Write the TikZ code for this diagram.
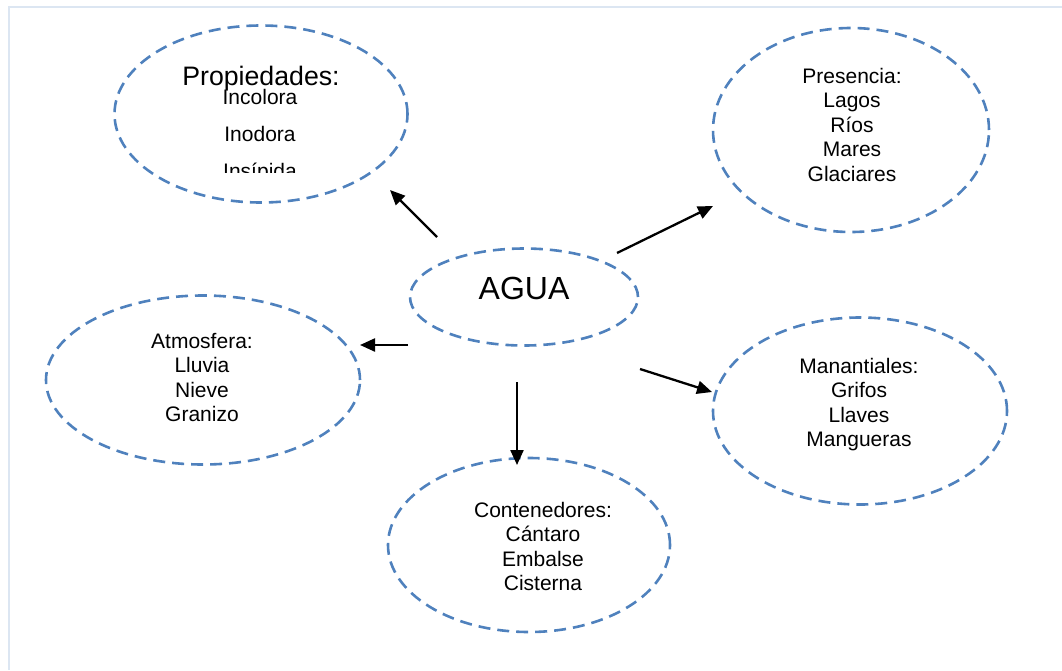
\documentclass[tikz,border=0pt]{standalone}
\usepackage{fontspec}
\setmainfont{Liberation Sans}
\usetikzlibrary{arrows.meta,shapes.geometric}
\definecolor{dashblue}{RGB}{79,129,189}
\definecolor{framegray}{RGB}{220,230,242}

\begin{document}
\begin{tikzpicture}[x=1pt,y=-1pt]
\tikzstyle{bubble}=[ellipse, draw=dashblue, line width=2.6pt, dash pattern=on 12pt off 7pt, inner sep=0pt]
\tikzstyle{txt}=[anchor=north, align=center, inner sep=0pt, font=\fontsize{21}{24.5}\selectfont]
\tikzstyle{arrow}=[line width=2.3pt, -{Triangle[length=15pt,width=13pt]}]
\useasboundingbox (0,0) rectangle (1062,670);
\draw [framegray, line width=2pt] (9,670) -- (9,7) -- (1062,7);
% ellipses
\draw (524,297) node (agua) [bubble, minimum width=228pt, minimum height=97pt] {};
\draw (261,114) node (prop) [bubble, minimum width=293pt, minimum height=177pt] {};
\draw (851,130) node (pres) [bubble, minimum width=276pt, minimum height=204pt] {};
\draw (203,380) node (atmo) [bubble, minimum width=314pt, minimum height=169pt] {};
\draw (860,411) node (mana) [bubble, minimum width=294pt, minimum height=187pt] {};
\draw (529,545) node (cont) [bubble, minimum width=282pt, minimum height=174pt] {};
% texts
\draw (524,277) node (aguatxt) [txt, font=\fontsize{32}{36}\selectfont] {AGUA};
\draw (261,66) node (proptxt) [txt, font=\fontsize{26.7}{30}\selectfont] {Propiedades:};
\begin{scope}
\clip (150,40) rectangle (380,172);
\draw (260,88.7) node (propitems) [txt, font=\fontsize{21}{37}\selectfont] {Incolora\\Inodora\\Insípida};
\end{scope}
\draw (852,68) node (prestxt) [txt] {Presencia:\\Lagos\\Ríos\\Mares\\Glaciares};
\draw (202,333) node (atmotxt) [txt] {Atmosfera:\\Lluvia\\Nieve\\Granizo};
\draw (859,358) node (manatxt) [txt] {Manantiales:\\Grifos\\Llaves\\Mangueras};
\draw (543,502) node (conttxt) [txt] {Contenedores:\\Cántaro\\Embalse\\Cisterna};
% arrow ends
\coordinate (s1) at (437,237);
\coordinate (t1) at (390,190);
\coordinate (s2) at (617,253);
\coordinate (t2) at (713,206);
\coordinate (s3) at (408,345);
\coordinate (t3) at (360,345);
\coordinate (s4) at (517,382);
\coordinate (t4) at (517,465);
\coordinate (s5) at (640,369);
\coordinate (t5) at (712,392);
\draw [arrow] (s1) -- (t1);
\draw [arrow] (s2) -- (t2);
\draw [arrow] (s3) -- (t3);
\draw [arrow] (s4) -- (t4);
\draw [arrow] (s5) -- (t5);
\end{tikzpicture}
\end{document}
